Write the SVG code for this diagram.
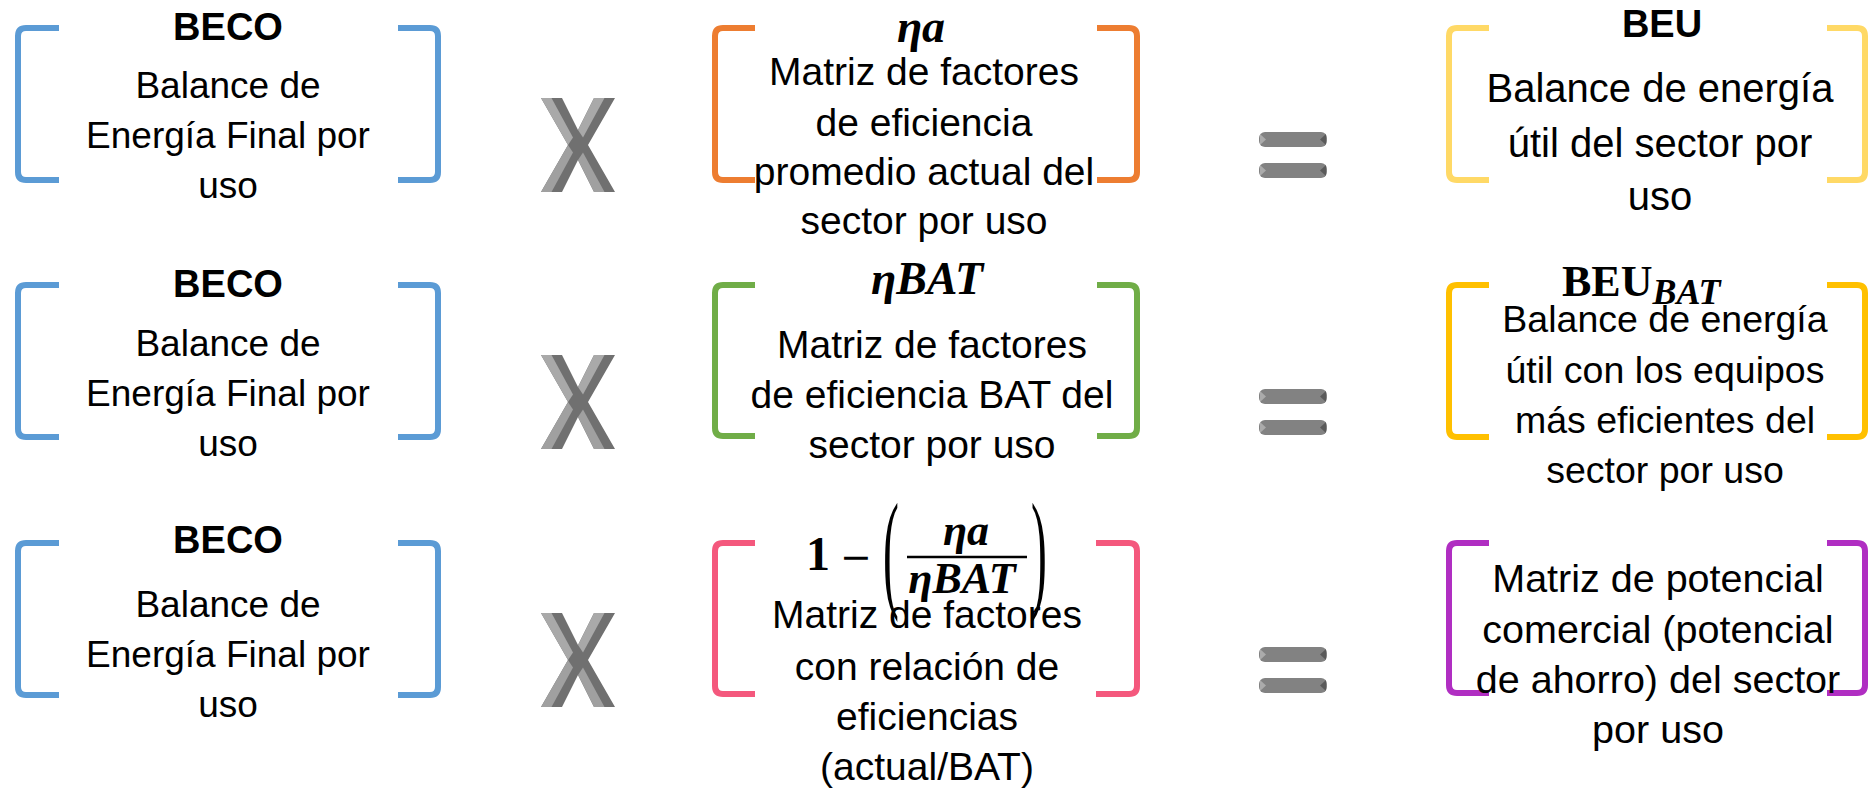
<svg xmlns="http://www.w3.org/2000/svg" xmlns:xlink="http://www.w3.org/1999/xlink" width="1870" height="790" viewBox="0 0 1870 790">
<style>
.br{fill:none;stroke-width:6;stroke-linecap:butt;stroke-linejoin:round}
.blue{stroke:#5B9BD5}.orange{stroke:#ED7D31}.yellow{stroke:#FFD966}.green{stroke:#70AD47}.gold{stroke:#FFC000}.pink{stroke:#F4587D}.purple{stroke:#B02EC2}
.t{font-family:"Liberation Sans",Arial,sans-serif;text-anchor:middle;fill:#000}
.h{font-family:"Liberation Sans",Arial,sans-serif;font-weight:bold;text-anchor:middle;fill:#000}
.m{font-family:"Liberation Serif","DejaVu Serif",serif;font-weight:bold;font-style:italic;fill:#000}
.mu{font-family:"Liberation Serif","DejaVu Serif",serif;fill:#000}
</style>
<defs>
<g id="xg">
<polygon points="0,0 21,0 37,32 53,0 74,0 47,47 74,94 53,94 37,62 21,94 0,94 27,47" fill="#707070"/>
<polygon points="0,0 10.5,0 32,39.5 27,47" fill="#a9a9a9"/>
<polygon points="27,47 32,54.5 10.5,94 0,94" fill="#a0a0a0"/>
<polygon points="53,0 63.5,0 42,39.5 37,32" fill="#a9a9a9"/>
<polygon points="37,62 42,54.5 63.5,94 53,94" fill="#a0a0a0"/>
</g>
<g id="eq">
<rect x="0" y="0" width="68" height="15" rx="6" fill="#828282"/>
<rect x="0" y="31" width="68" height="15" rx="6" fill="#828282"/>
<polygon points="1,2 7,7.5 1,13" fill="#ababab"/>
<polygon points="67,2 61,7.5 67,13" fill="#5a5a5a"/>
<polygon points="1,33 7,38.5 1,44" fill="#ababab"/>
<polygon points="67,33 61,38.5 67,44" fill="#5a5a5a"/>
</g>
</defs>
<rect width="1870" height="790" fill="#ffffff"/>
<g id="connectors"/>

<!-- Row 1 -->
<g id="beco-1">
<path class="br blue" d="M59,28 H26 Q18,28 18,36 V172 Q18,180 26,180 H59"/>
<path class="br blue" d="M398,28 H430 Q438,28 438,36 V172 Q438,180 430,180 H398"/>
<text class="h" x="228" y="40" font-size="38">BECO</text>
<text class="t" font-size="37"><tspan x="228" y="98">Balance de</tspan><tspan x="228" y="148">Energía Final por</tspan><tspan x="228" y="198">uso</tspan></text>
</g>
<g id="op-x-1"><use xlink:href="#xg" x="541" y="98"/></g>
<g id="eta-a">
<path class="br orange" d="M755,28 H723 Q715,28 715,36 V172 Q715,180 723,180 H755"/>
<path class="br orange" d="M1097,28 H1129 Q1137,28 1137,36 V172 Q1137,180 1129,180 H1097"/>
<text class="m" x="921" y="42" font-size="46" text-anchor="middle">ηa</text>
<text class="t" font-size="39"><tspan x="924" y="85">Matriz de factores</tspan><tspan x="924" y="136">de eficiencia</tspan><tspan x="924" y="185">promedio actual del</tspan><tspan x="924" y="234">sector por uso</tspan></text>
</g>
<g id="op-eq-1"><use xlink:href="#eq" x="1259" y="132"/></g>
<g id="beu">
<path class="br yellow" d="M1489,28 H1457 Q1449,28 1449,36 V172 Q1449,180 1457,180 H1489"/>
<path class="br yellow" d="M1827,28 H1857 Q1865,28 1865,36 V172 Q1865,180 1857,180 H1827"/>
<text class="h" x="1662" y="37" font-size="38">BEU</text>
<text class="t" font-size="40"><tspan x="1660" y="102">Balance de energía</tspan><tspan x="1660" y="157">útil del sector por</tspan><tspan x="1660" y="210">uso</tspan></text>
</g>

<!-- Row 2 -->
<g id="beco-2">
<path class="br blue" d="M59,285 H26 Q18,285 18,293 V429 Q18,437 26,437 H59"/>
<path class="br blue" d="M398,285 H430 Q438,285 438,293 V429 Q438,437 430,437 H398"/>
<text class="h" x="228" y="297" font-size="38">BECO</text>
<text class="t" font-size="37"><tspan x="228" y="356">Balance de</tspan><tspan x="228" y="406">Energía Final por</tspan><tspan x="228" y="456">uso</tspan></text>
</g>
<g id="op-x-2"><use xlink:href="#xg" x="541" y="355"/></g>
<g id="eta-bat">
<path class="br green" d="M755,285 H723 Q715,285 715,293 V428 Q715,436 723,436 H755"/>
<path class="br green" d="M1097,285 H1129 Q1137,285 1137,293 V428 Q1137,436 1129,436 H1097"/>
<text class="m" x="927" y="294" font-size="46" text-anchor="middle">ηBAT</text>
<text class="t" font-size="39"><tspan x="932" y="358">Matriz de factores</tspan><tspan x="932" y="408">de eficiencia BAT del</tspan><tspan x="932" y="458">sector por uso</tspan></text>
</g>
<g id="op-eq-2"><use xlink:href="#eq" x="1259" y="389"/></g>
<g id="beu-bat">
<path class="br gold" d="M1489,285 H1457 Q1449,285 1449,293 V429 Q1449,437 1457,437 H1489"/>
<path class="br gold" d="M1827,285 H1857 Q1865,285 1865,293 V429 Q1865,437 1857,437 H1827"/>
<text x="1562" y="296"><tspan class="mu" font-weight="bold" font-size="44">BEU</tspan><tspan class="m" font-size="36" dy="8">BAT</tspan></text>
<text class="t" font-size="37.5"><tspan x="1665" y="332">Balance de energía</tspan><tspan x="1665" y="383">útil con los equipos</tspan><tspan x="1665" y="433">más eficientes del</tspan><tspan x="1665" y="483">sector por uso</tspan></text>
</g>

<!-- Row 3 -->
<g id="beco-3">
<path class="br blue" d="M59,543 H26 Q18,543 18,551 V687 Q18,695 26,695 H59"/>
<path class="br blue" d="M398,543 H430 Q438,543 438,551 V687 Q438,695 430,695 H398"/>
<text class="h" x="228" y="553" font-size="38">BECO</text>
<text class="t" font-size="37"><tspan x="228" y="617">Balance de</tspan><tspan x="228" y="667">Energía Final por</tspan><tspan x="228" y="717">uso</tspan></text>
</g>
<g id="op-x-3"><use xlink:href="#xg" x="541" y="613"/></g>
<g id="ratio">
<path class="br pink" d="M755,543 H723 Q715,543 715,551 V686 Q715,694 723,694 H755"/>
<path class="br pink" d="M1096,543 H1129 Q1137,543 1137,551 V686 Q1137,694 1129,694 H1096"/>
<text class="mu" x="818" y="570" font-size="48" font-weight="bold" text-anchor="middle">1</text>
<text x="856" y="570" font-size="38" font-family="'DejaVu Serif',serif" text-anchor="middle">−</text>
<text class="mu" font-size="132" transform="translate(883,594) scale(0.36,1)">(</text>
<text class="m" x="966" y="545" font-size="44" text-anchor="middle">ηa</text>
<line x1="907" y1="557" x2="1027" y2="557" stroke="#000" stroke-width="2.5"/>
<text class="m" x="962" y="593" font-size="44" text-anchor="middle">ηBAT</text>
<text class="mu" font-size="132" transform="translate(1031,594) scale(0.36,1)">)</text>
<text class="t" font-size="39"><tspan x="927" y="628">Matriz de factores</tspan><tspan x="927" y="680">con relación de</tspan><tspan x="927" y="730">eficiencias</tspan><tspan x="927" y="780">(actual/BAT)</tspan></text>
</g>
<g id="op-eq-3"><use xlink:href="#eq" x="1259" y="647"/></g>
<g id="potencial">
<path class="br purple" d="M1489,543 H1457 Q1449,543 1449,551 V685 Q1449,693 1457,693 H1489"/>
<path class="br purple" d="M1827,543 H1857 Q1865,543 1865,551 V685 Q1865,693 1857,693 H1827"/>
<text class="t" font-size="39.5"><tspan x="1658" y="592">Matriz de potencial</tspan><tspan x="1658" y="643">comercial (potencial</tspan><tspan x="1658" y="693">de ahorro) del sector</tspan><tspan x="1658" y="743">por uso</tspan></text>
</g>
</svg>
